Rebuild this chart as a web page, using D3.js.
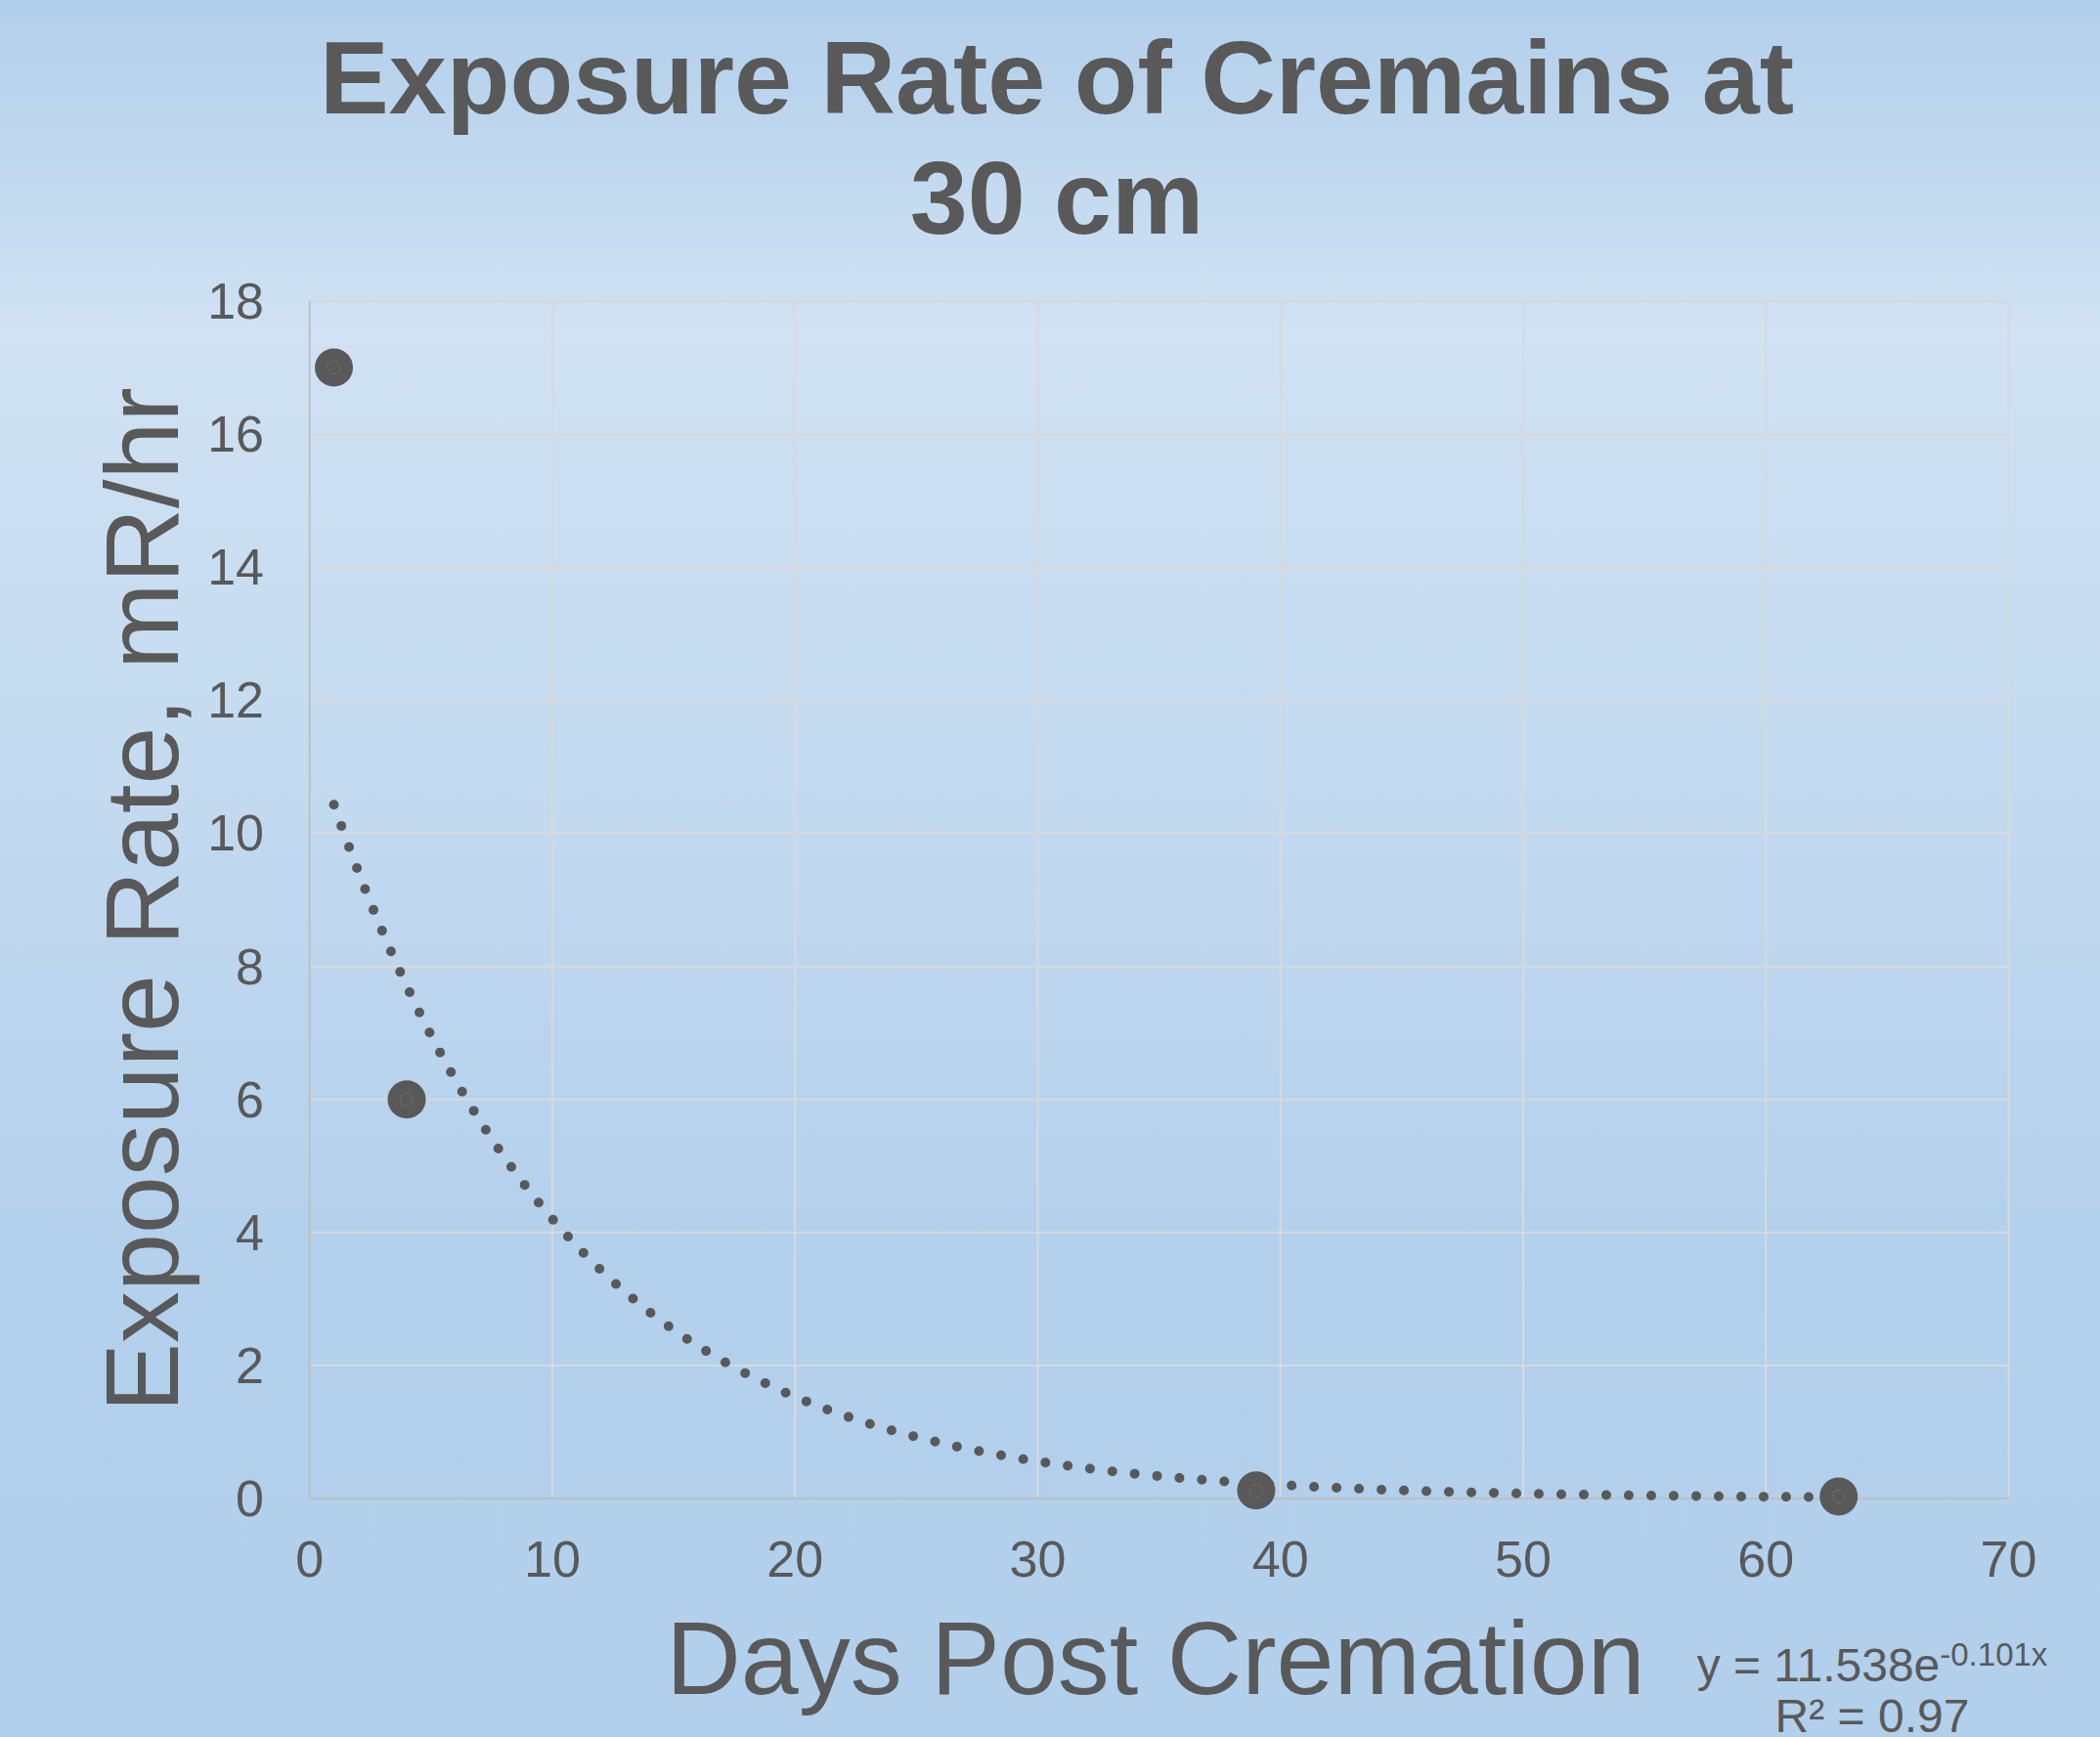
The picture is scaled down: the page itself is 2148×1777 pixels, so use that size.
<!DOCTYPE html>
<html>
<head>
<meta charset="utf-8">
<script src="https://cdnjs.cloudflare.com/ajax/libs/d3/7.8.5/d3.min.js"></script>
<style>
  html, body { margin: 0; padding: 0; }
  svg { display: block; }
</style>
</head>
<body>
<div id="chart"></div>
<script>
// measured values
var days = [1, 4, 39, 63];
var exposure = [17, 6, 0.12, 0.03];
var xTicks = [0, 10, 20, 30, 40, 50, 60, 70];
var yTicks = [0, 2, 4, 6, 8, 10, 12, 14, 16, 18];
var titleLines = ['Exposure Rate of Cremains at', '30 cm'];
// exponential trendline shown on the chart: y = a * e^(b x)
var trendCoef = [11.538, -0.101];
var trendRange = [1, 63];

var dims = {
  width: 2148,
  height: 1777,
  left: 316.7,
  right: 2054.5,
  top: 308,
  bottom: 1533
};
var ink = '#595959';
var font = '"Liberation Sans", Arial, sans-serif';

var svg = d3.select('#chart').append('svg')
  .attr('width', dims.width)
  .attr('height', dims.height);

var defs = svg.append('defs');
var grad = defs.append('linearGradient')
  .attr('id', 'bg')
  .attr('x1', 0).attr('y1', 0).attr('x2', 0).attr('y2', 1);
[[0, '#b2cfeb'], [0.19, '#d0e2f3'], [0.45, '#c3daf0'], [0.72, '#b3d0ec'], [1, '#b2cfeb']].forEach(function(s) {
  grad.append('stop').attr('offset', s[0]).attr('stop-color', s[1]);
});

svg.append('rect')
  .attr('width', dims.width)
  .attr('height', dims.height)
  .attr('fill', 'url(#bg)');

var x = d3.scaleLinear().domain([0, 70]).range([dims.left, dims.right]);
var y = d3.scaleLinear().domain([0, 18]).range([dims.bottom, dims.top]);

// grid
svg.append('g').selectAll('line.v')
  .data(xTicks.slice(1))
  .enter().append('line')
  .attr('x1', function(d) { return x(d); })
  .attr('x2', function(d) { return x(d); })
  .attr('y1', dims.top)
  .attr('y2', dims.bottom)
  .attr('stroke', '#d9d9d9')
  .attr('stroke-width', 2);

svg.append('g').selectAll('line.h')
  .data(yTicks.slice(1))
  .enter().append('line')
  .attr('x1', dims.left)
  .attr('x2', dims.right)
  .attr('y1', function(d) { return y(d); })
  .attr('y2', function(d) { return y(d); })
  .attr('stroke', '#d9d9d9')
  .attr('stroke-width', 2);

// axis lines
svg.append('line')
  .attr('x1', dims.left).attr('x2', dims.left)
  .attr('y1', dims.top).attr('y2', dims.bottom)
  .attr('stroke', '#bfbfbf').attr('stroke-width', 2);
svg.append('line')
  .attr('x1', dims.left).attr('x2', dims.right)
  .attr('y1', dims.bottom).attr('y2', dims.bottom)
  .attr('stroke', '#bfbfbf').attr('stroke-width', 2);

// tick labels
svg.append('g').selectAll('text')
  .data(xTicks)
  .enter().append('text')
  .attr('x', function(d) { return x(d); })
  .attr('y', 1613)
  .attr('text-anchor', 'middle')
  .attr('font-family', font)
  .attr('font-size', 52)
  .attr('fill', ink)
  .text(function(d) { return d; });

svg.append('g').selectAll('text')
  .data(yTicks)
  .enter().append('text')
  .attr('x', 270)
  .attr('y', function(d) { return y(d) + 18; })
  .attr('text-anchor', 'end')
  .attr('font-family', font)
  .attr('font-size', 52)
  .attr('fill', ink)
  .text(function(d) { return d; });

// title
svg.append('g').selectAll('text')
  .data(titleLines)
  .enter().append('text')
  .attr('x', 1081)
  .attr('y', function(d, i) { return 116 + i * 123; })
  .attr('text-anchor', 'middle')
  .attr('font-family', font)
  .attr('font-weight', 'bold')
  .attr('font-size', 106)
  .attr('fill', ink)
  .text(function(d) { return d; });

// axis titles
svg.append('text')
  .attr('x', 1182)
  .attr('y', 1733)
  .attr('text-anchor', 'middle')
  .attr('font-family', font)
  .attr('font-size', 106)
  .attr('fill', ink)
  .text('Days Post Cremation');

svg.append('text')
  .attr('transform', 'translate(182,' + ((dims.top + dims.bottom) / 2) + ') rotate(-90)')
  .attr('text-anchor', 'middle')
  .attr('font-family', font)
  .attr('font-size', 106)
  .attr('fill', ink)
  .text('Exposure Rate, mR/hr');

// trendline
var trendX = d3.range(trendRange[0], trendRange[1] + 0.001, 0.25);
var line = d3.line()
  .x(function(d) { return x(d); })
  .y(function(d) { return y(trendCoef[0] * Math.exp(trendCoef[1] * d)); });

svg.append('path')
  .datum(trendX)
  .attr('d', line)
  .attr('fill', 'none')
  .attr('stroke', ink)
  .attr('stroke-width', 10)
  .attr('stroke-linecap', 'round')
  .attr('stroke-dasharray', '0 23');

// points
var pts = svg.append('g').selectAll('g')
  .data(days)
  .enter().append('g')
  .attr('transform', function(d, i) { return 'translate(' + x(d) + ',' + y(exposure[i]) + ')'; });

pts.append('circle')
  .attr('r', 19.5)
  .attr('fill', ink);

pts.append('circle')
  .attr('r', 6.5)
  .attr('fill', 'none')
  .attr('stroke', '#8a8a8a')
  .attr('stroke-width', 0.8)
  .attr('stroke-dasharray', '2 2');

// equation label
var eq = svg.append('text')
  .attr('x', 1915)
  .attr('y', 1720)
  .attr('text-anchor', 'middle')
  .attr('font-family', font)
  .attr('font-size', 48)
  .attr('fill', ink);
eq.append('tspan').text('y = ' + trendCoef[0] + 'e');
eq.append('tspan')
  .attr('font-size', 33)
  .attr('dy', -16)
  .text(trendCoef[1] + 'x');

svg.append('text')
  .attr('x', 1915)
  .attr('y', 1772)
  .attr('text-anchor', 'middle')
  .attr('font-family', font)
  .attr('font-size', 48)
  .attr('fill', ink)
  .text('R² = 0.97');
</script>
</body>
</html>
